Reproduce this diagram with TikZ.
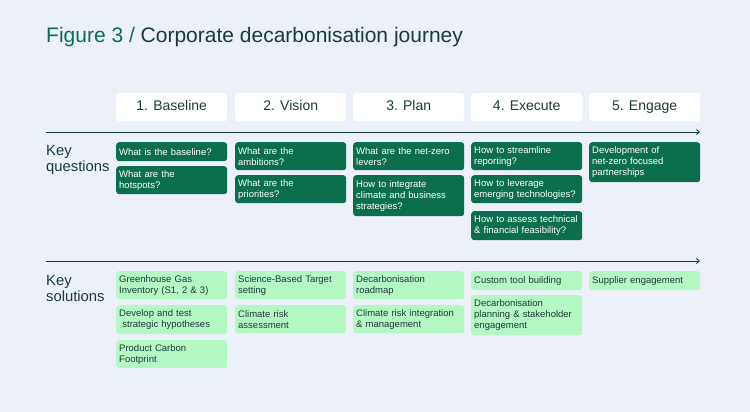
\documentclass[tikz,border=0pt]{standalone}
\usepackage{fontspec}
\setmainfont{Liberation Sans}
\usetikzlibrary{arrows.meta, positioning}
\definecolor{bgblue}{HTML}{ECF0F8}
\definecolor{darkgreen}{HTML}{0B6E4C}
\definecolor{lightgreen}{HTML}{B4F8C4}
\definecolor{inkgreen}{HTML}{1C3B38}
\begin{document}
\begin{tikzpicture}[
	x=1pt, y=-1pt,
	every node/.style={font=\fontsize{9.5}{11}\selectfont, inner sep=0pt},
	phase/.style={
		rectangle,
		fill=white,
		rounded corners=3pt,
		minimum width=111pt,
		minimum height=28pt,
		text height=10pt,
		text depth=3pt,
		anchor=north west,
		text=inkgreen,
		font=\fontsize{14}{16}\selectfont
	},
	question/.style={
		rectangle,
		fill=darkgreen,
		rounded corners=3pt,
		text=white,
		align=left,
		text width=105pt,
		inner xsep=3pt,
		anchor=north west
	},
	solution/.style={
		question,
		fill=lightgreen,
		text=inkgreen
	},
	rowlabel/.style={
		anchor=north west,
		align=left,
		text=inkgreen,
		font=\fontsize{14.8}{16.5}\selectfont
	},
	timeline/.style={
		-{Straight Barb[length=3pt,width=5pt]},
		draw=inkgreen,
		line width=0.9pt
	}
	]
	
	% Background
	\fill[bgblue] (0,0) rectangle (750,412);
	
	% Title
	\node[anchor=west, font=\fontsize{21}{24}\selectfont, text=inkgreen] (title) at (46,37)
	{\textcolor{darkgreen}{Figure 3 /} Corporate decarbonisation journey};
	
	% Phases
	\node[phase] (baseline) at (116,93) {1. Baseline};
	\node[phase] (vision) at (235,93) {2. Vision};
	\node[phase] (plan) at (353,93) {3. Plan};
	\node[phase] (execute) at (471,93) {4. Execute};
	\node[phase] (engage) at (589,93) {5. Engage};
	
	% Timelines
	\coordinate (qstart) at (46,132);
	\coordinate (qend) at (700,132);
	\coordinate (sstart) at (46,261);
	\coordinate (send) at (700,261);
	\draw[timeline] (qstart) -- (qend);
	\draw[timeline] (sstart) -- (send);
	
	% Row labels
	\node[rowlabel] (keyq) at (46,145) {Key\\questions};
	\node[rowlabel] (keys) at (46,275) {Key\\solutions};
	
	% Key questions
	\node[question, minimum height=19pt] (q11) at (116,142) {What is the baseline?};
	\node[question, minimum height=28pt] (q12) at (116,166) {What are the\\hotspots?};
	\node[question, minimum height=28pt] (q21) at (235,142) {What are the\\ambitions?};
	\node[question, minimum height=28pt] (q22) at (235,175) {What are the\\priorities?};
	\node[question, minimum height=28pt] (q31) at (353,142) {What are the net-zero\\levers?};
	\node[question, minimum height=41pt] (q32) at (353,175) {How to integrate\\climate and business\\strategies?};
	\node[question, minimum height=28pt] (q41) at (471,142) {How to streamline\\reporting?};
	\node[question, minimum height=28pt] (q42) at (471,175) {How to leverage\\emerging technologies?};
	\node[question, minimum height=29pt] (q43) at (471,211) {How to assess technical\\\& financial feasibility?};
	\node[question, minimum height=40pt] (q51) at (589,142) {Development of\\net-zero focused\\partnerships};
	
	% Key solutions
	\node[solution, minimum height=28pt] (s11) at (116,271) {Greenhouse Gas\\Inventory (S1, 2 \& 3)};
	\node[solution, minimum height=29pt] (s12) at (116,305) {Develop and test\\\ strategic hypotheses};
	\node[solution, minimum height=28pt] (s13) at (116,340) {Product Carbon\\Footprint};
	\node[solution, minimum height=28pt] (s21) at (235,271) {Science-Based Target\\setting};
	\node[solution, minimum height=28pt] (s22) at (235,305) {Climate risk\\assessment};
	\node[solution, minimum height=28pt] (s31) at (353,271) {Decarbonisation\\roadmap};
	\node[solution, minimum height=28pt] (s32) at (353,305) {Climate risk integration\\\& management};
	\node[solution, minimum height=19pt] (s41) at (471,271) {Custom tool building};
	\node[solution, minimum height=40pt] (s42) at (471,295) {Decarbonisation\\planning \& stakeholder\\engagement};
	\node[solution, minimum height=19pt] (s51) at (589,271) {Supplier engagement};
	
\end{tikzpicture}
\end{document}
